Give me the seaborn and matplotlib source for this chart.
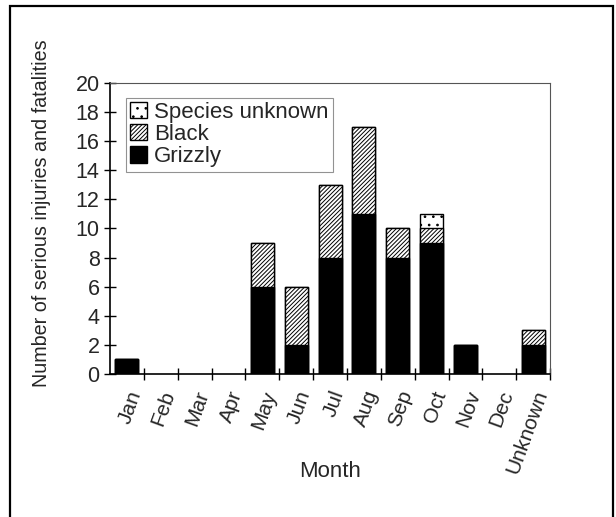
import matplotlib
matplotlib.use("Agg")
import matplotlib.pyplot as plt
import matplotlib.patches as mpatches
import seaborn as sns
import pandas as pd
import numpy as np

months = ["Jan", "Feb", "Mar", "Apr", "May", "Jun", "Jul", "Aug", "Sep", "Oct", "Nov", "Dec", "Unknown"]
grizzly = [1, 0, 0, 0, 6, 2, 8, 11, 8, 9, 2, 0, 2]
black = [0, 0, 0, 0, 3, 4, 5, 6, 2, 1, 0, 0, 1]
species_unknown = [0, 0, 0, 0, 0, 0, 0, 0, 0, 1, 0, 0, 0]

sns.set_theme(style="white")
plt.rcParams['font.family'] = ['Liberation Sans', 'DejaVu Sans']
plt.rcParams['hatch.linewidth'] = 0.7

df = pd.DataFrame({"Month": months, "Grizzly": grizzly, "Black": black, "Unknown": species_unknown})
df["GB"] = df["Grizzly"] + df["Black"]
df["Total"] = df["GB"] + df["Unknown"]

fig = plt.figure(figsize=(6.16, 5.17), dpi=100)
ax = fig.add_axes([0.1786, 0.2766, 0.7144, 0.5629])

kw = dict(order=months, width=0.68, linewidth=1.0, edgecolor="black", ax=ax)
sns.barplot(data=df, x="Month", y="Total", color="white", hatch="..", **kw)
sns.barplot(data=df, x="Month", y="GB", color="white", hatch="////////", **kw)
sns.barplot(data=df, x="Month", y="Grizzly", color="black", **kw)

for p in ax.patches:
    if p.get_height() == 0:
        p.set_visible(False)

ax.set_ylim(0, 20)
ax.set_xlim(-0.5, len(months) - 0.5)
ax.set_yticks(np.arange(0, 21, 2))
ax.set_yticklabels([str(v) for v in range(0, 21, 2)], fontsize=15.5)
ax.tick_params(axis='y', direction='inout', length=9, width=1, color='black', left=True, pad=3)

ax.set_xticks(np.arange(0.5, len(months) - 0.5 + 1e-9, 1.0), minor=True)
ax.set_xticks(np.arange(len(months)))
ax.set_xticklabels(months, rotation=70, ha='right', rotation_mode='anchor', fontsize=15)
ax.tick_params(axis='x', which='major', length=0, pad=10)
ax.tick_params(axis='x', which='minor', direction='inout', length=9, width=1, color='black', bottom=True)

ax.set_xlabel("Month", fontsize=16)
ax.set_ylabel("Number of serious injuries and fatalities", fontsize=14.2)
ax.xaxis.set_label_coords(0.5, -0.30)
ax.yaxis.set_label_coords(-0.133, 0.553)

for s in ["left", "bottom"]:
    ax.spines[s].set_color("black")
    ax.spines[s].set_linewidth(1.2)
for s in ["top", "right"]:
    ax.spines[s].set_visible(True)
    ax.spines[s].set_color("#555555")
    ax.spines[s].set_linewidth(0.8)

handles = [
    mpatches.Patch(facecolor="white", edgecolor="black", hatch="..", label="Species unknown"),
    mpatches.Patch(facecolor="white", edgecolor="black", hatch="////////", label="Black"),
    mpatches.Patch(facecolor="black", edgecolor="black", label="Grizzly"),
]
leg = ax.legend(handles=handles, loc="upper left", bbox_to_anchor=(0.036, 0.95), fontsize=16,
                frameon=True, fancybox=False, edgecolor="#777777", handlelength=0.75, handleheight=0.75,
                handletextpad=0.3, labelspacing=0.05, borderpad=0.2, borderaxespad=0.0)
leg.get_frame().set_linewidth(0.8)

border = mpatches.Rectangle((10 / 616, -0.02), (613 - 10) / 616, 1 - 6 / 517 + 0.02,
                            transform=fig.transFigure, fill=False, edgecolor="black", linewidth=1.6)
fig.patches.append(border)

fig.savefig("out.png", dpi=100)
